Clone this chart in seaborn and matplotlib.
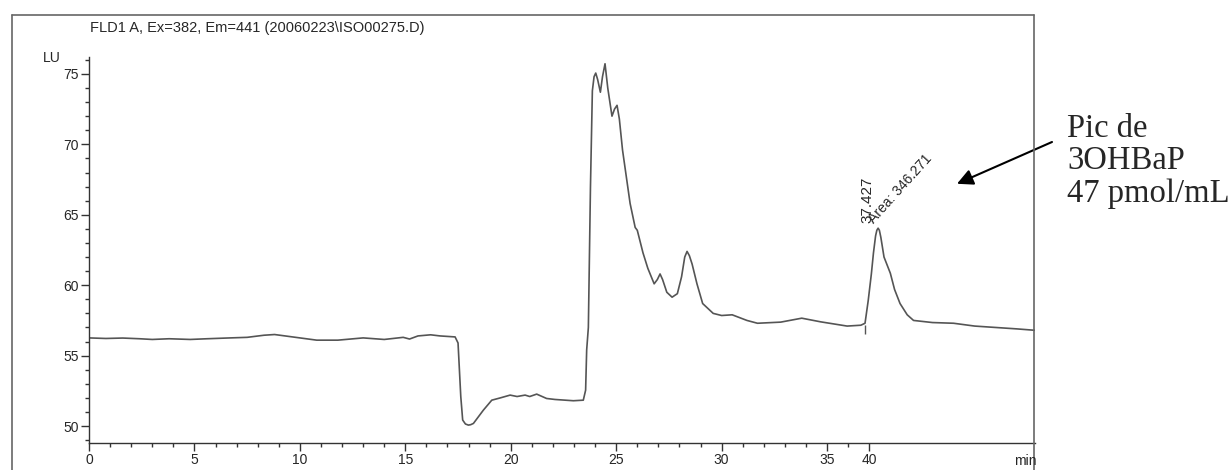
import matplotlib
matplotlib.use("Agg")
import matplotlib.pyplot as plt
from matplotlib.lines import Line2D
from matplotlib.ticker import FixedLocator, NullFormatter
import seaborn as sns

# chromatogram trace (time in min, signal in LU)
time = [0, 0.8, 1.6, 2.4, 3.0, 3.8, 4.8, 5.6, 6.7, 7.5, 8.3, 8.8, 9.8, 10.8,
        11.8, 13.0, 14.0, 14.9, 15.2, 15.6, 16.2, 16.65, 17.36, 17.5, 17.63,
        17.72, 17.85, 17.99, 18.1, 18.23, 18.7, 19.1, 19.5, 19.97, 20.3,
        20.68, 20.9, 21.23, 21.7, 22.1, 22.97, 23.44, 23.55, 23.6, 23.68,
        23.72, 23.78, 23.87, 23.95, 24.03, 24.12, 24.25, 24.35, 24.47, 24.6,
        24.8, 24.92, 25.04, 25.15, 25.3, 25.66, 25.9, 26.0, 26.27, 26.5, 26.8,
        26.95, 27.08, 27.2, 27.4, 27.65, 27.9, 28.1, 28.25, 28.36, 28.47,
        28.6, 28.83, 29.1, 29.6, 30.0, 30.5, 31.2, 31.7, 32.8, 33.8, 34.7,
        35.95, 36.6, 36.8, 36.95, 37.1, 37.2, 37.3, 37.36, 37.42, 37.48,
        37.55, 37.7, 38.0, 38.2, 38.46, 38.8, 39.1, 40.0, 41.0, 42.0, 43.0,
        44.0, 44.86]
signal = [56.26, 56.22, 56.25, 56.2, 56.15, 56.2, 56.15, 56.2, 56.26, 56.3,
          56.45, 56.5, 56.3, 56.1, 56.1, 56.26, 56.15, 56.3, 56.18, 56.4,
          56.48, 56.4, 56.33, 55.9, 52.1, 50.43, 50.15, 50.07, 50.1, 50.19,
          51.13, 51.84, 52.0, 52.2, 52.1, 52.2, 52.1, 52.27, 51.96, 51.89,
          51.8, 51.84, 52.55, 55.4, 57.0, 61.0, 67.0, 73.8, 74.8, 75.06, 74.6,
          73.7, 74.8, 75.72, 74.0, 72.0, 72.5, 72.77, 71.8, 69.6, 65.8, 64.1,
          63.9, 62.3, 61.2, 60.1, 60.4, 60.8, 60.4, 59.5, 59.15, 59.4, 60.6,
          62.0, 62.4, 62.1, 61.5, 60.1, 58.7, 58.0, 57.85, 57.9, 57.5, 57.3,
          57.38, 57.66, 57.4, 57.1, 57.16, 57.3, 58.9, 60.8, 62.3, 63.5, 63.9,
          64.05, 63.9, 63.4, 62.0, 60.85, 59.7, 58.7, 57.9, 57.5, 57.35, 57.3,
          57.1, 57.0, 56.9, 56.8]

# integrated peak
peak_rt = 37.427
peak_area = 346.271
peak_height = 64.05
peak_start = 36.8

x_major = [0, 5, 10, 15, 20, 25, 30, 35, 37]
x_labels = ["0", "5", "10", "15", "20", "25", "30", "35", "40"]
x_minor = [1, 2, 3, 4, 6, 7, 8, 9, 11, 12, 13, 14, 16, 17, 18, 19, 21, 22,
           23, 24, 26, 27, 28, 29, 31, 32, 33, 34, 36]
y_major = [50, 55, 60, 65, 70, 75]
y_minor = [49, 51, 52, 53, 54, 56, 57, 58, 59, 61, 62, 63, 64, 66, 67, 68,
           69, 71, 72, 73, 74, 76]

sns.set_style("ticks")
plt.rcParams["font.family"] = ["Liberation Sans", "DejaVu Sans"]

fig = plt.figure(figsize=(12.31, 4.70), dpi=100)
ax = fig.add_axes([89 / 1231, 27 / 470, 946 / 1231, 386 / 470])

sns.lineplot(x=time, y=signal, ax=ax, color="#555555", linewidth=1.2,
             estimator=None, sort=False)

# integration baseline marker
ax.vlines(peak_start, 56.55, 57.2, color="#555555", linewidth=1)

ax.set_xlim(0, 44.86)
ax.set_ylim(48.8, 76.2)

for s in ["top", "right"]:
    ax.spines[s].set_visible(False)
for s in ["left", "bottom"]:
    ax.spines[s].set_color("#333333")
    ax.spines[s].set_linewidth(1.0)

ax.xaxis.set_major_locator(FixedLocator(x_major))
ax.set_xticklabels(x_labels)
ax.xaxis.set_minor_locator(FixedLocator(x_minor))
ax.yaxis.set_major_locator(FixedLocator(y_major))
ax.yaxis.set_minor_locator(FixedLocator(y_minor))
ax.yaxis.set_minor_formatter(NullFormatter())
ax.tick_params(which="major", length=5.5, width=1, color="#333333",
               labelsize=10, pad=2)
ax.tick_params(which="minor", length=3, width=1, color="#333333")
ax.set_xlabel("")
ax.set_ylabel("")

# peak labels
ax.text(peak_rt - 0.2, peak_height + 0.4, f"{peak_rt:.3f}", rotation=90,
        rotation_mode="anchor", ha="left", va="bottom", fontsize=11)
ax.text(peak_rt - 0.1, peak_height + 0.15, f"Area: {peak_area:.3f}",
        rotation=48, rotation_mode="anchor", ha="left", va="bottom",
        fontsize=10)

# arrow + note on the right
ax.annotate("", xy=(41.16, 67.2), xycoords="data",
            xytext=(1052 / 1231, 1 - 142 / 470), textcoords="figure fraction",
            arrowprops=dict(arrowstyle="-|>", color="black", lw=1.5,
                            mutation_scale=24, shrinkA=0, shrinkB=0),
            annotation_clip=False)
fig.text(1067 / 1231, 1 - 161 / 470, "Pic de\n3OHBaP\n47 pmol/mL",
         family=["Liberation Serif", "DejaVu Serif"], fontsize=23.5,
         linespacing=1.08, ha="left", va="center")

fig.text(90 / 1231, 1 - 28 / 470,
         r"FLD1 A, Ex=382, Em=441 (20060223\ISO00275.D)",
         fontsize=10.5, ha="left", va="center")
fig.text(43 / 1231, 1 - 58 / 470, "LU", fontsize=10, ha="left", va="center")
fig.text(1037 / 1231, 1 - 461 / 470, "min", fontsize=10, ha="right",
         va="center")

# outer frame of the printout
frame = dict(color="#666666", linewidth=1.2, transform=fig.transFigure)
fig.add_artist(Line2D([12 / 1231, 1034 / 1231], [1 - 15 / 470, 1 - 15 / 470], **frame))
fig.add_artist(Line2D([12 / 1231, 12 / 1231], [0, 1 - 15 / 470], **frame))
fig.add_artist(Line2D([1034 / 1231, 1034 / 1231], [0, 1 - 15 / 470], **frame))

fig.savefig("out.png", dpi=100)
